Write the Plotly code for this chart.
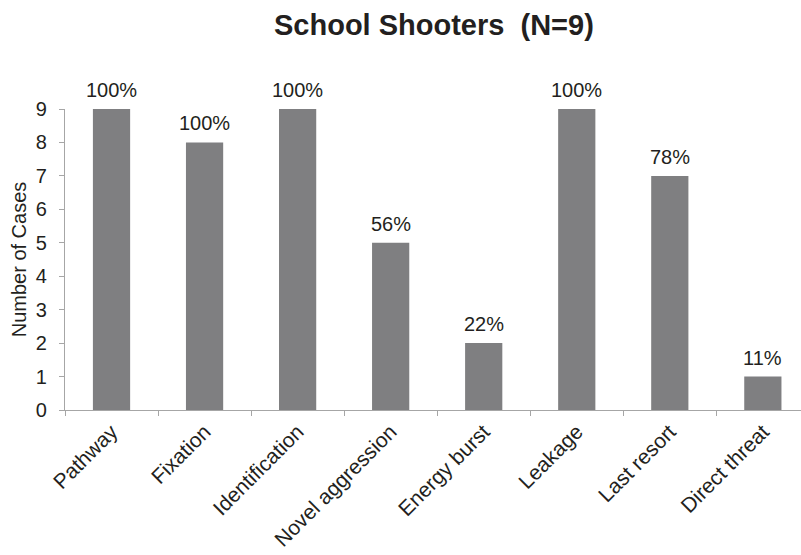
import plotly.graph_objects as go

categories = ["Pathway", "Fixation", "Identification", "Novel aggression",
              "Energy burst", "Leakage", "Last resort", "Direct threat"]
cases = [9, 8, 9, 5, 2, 9, 7, 1]
pct_labels = ["100%", "100%", "100%", "56%", "22%", "100%", "78%", "11%"]
y_ticks = [0, 1, 2, 3, 4, 5, 6, 7, 8, 9]

FONT = "Liberation Sans, Arial, sans-serif"
TXT = "#231f20"
AX = "#a6a6a6"

fig = go.Figure(go.Bar(
    x=categories, y=cases,
    marker=dict(color="#7f7f81", line=dict(width=0)),
    width=0.4, hoverinfo="skip",
))

for c, v, t in zip(categories, cases, pct_labels):
    fig.add_annotation(x=c, y=v, text=t, showarrow=False, xanchor="center",
                       yanchor="bottom", yshift=6,
                       font=dict(family=FONT, size=20, color=TXT))

fig.update_layout(
    width=801, height=555,
    margin=dict(l=65, r=0, t=109, b=145, autoexpand=False),
    paper_bgcolor="white", plot_bgcolor="white",
    showlegend=False,
    title=dict(text="<b>School Shooters  (N=9)</b>", x=401.5 / 801, xanchor="center",
               y=1 - 25 / 555, yanchor="middle", xref="paper",
               font=dict(family=FONT, size=29, color=TXT)),
)
fig.update_xaxes(
    range=[-0.5, 7.41], tickson="boundaries", ticks="outside", ticklen=5,
    tickcolor=AX, showline=True, linecolor=AX, linewidth=1.3,
    tickangle=-45, tickfont=dict(family=FONT, size=21, color=TXT),
    showgrid=False, zeroline=False, automargin=False,
)
fig.update_yaxes(
    range=[0, 9], tickvals=y_ticks, ticks="outside", ticklen=5,
    tickcolor=AX, showline=True, linecolor=AX, linewidth=1.3,
    tickfont=dict(family=FONT, size=20, color=TXT), ticklabelstandoff=8,
    title=dict(text="Number of Cases", font=dict(family=FONT, size=20, color=TXT), standoff=3),
    showgrid=False, zeroline=False, automargin=False,
)

fig.write_html("out.html", config={"displayModeBar": False},
               post_script="document.body.style.margin='0';")
